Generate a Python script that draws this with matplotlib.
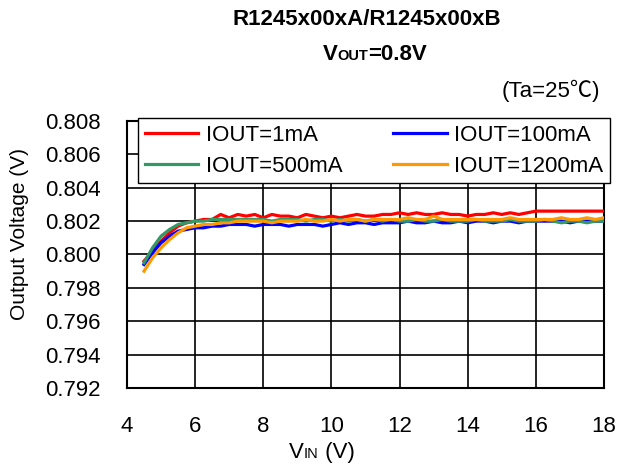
import matplotlib.pyplot as plt

plt.rcParams['font.family'] = ['Liberation Sans', 'DejaVu Sans']

# input voltage sweep (V)
vin = [4.5, 4.75, 5.0, 5.25, 5.5, 5.75, 6.0, 6.25, 6.5, 6.75,
       7.0, 7.25, 7.5, 7.75, 8.0, 8.25, 8.5, 8.75, 9.0, 9.25,
       9.5, 9.75, 10.0, 10.25, 10.5, 10.75, 11.0, 11.25, 11.5, 11.75,
       12.0, 12.25, 12.5, 12.75, 13.0, 13.25, 13.5, 13.75, 14.0, 14.25,
       14.5, 14.75, 15.0, 15.25, 15.5, 15.75, 16.0, 16.25, 16.5, 16.75,
       17.0, 17.25, 17.5, 17.75, 18.0]

vout_1ma = [0.7996, 0.8002, 0.8008, 0.8013, 0.8017, 0.8019, 0.8020, 0.8021, 0.8021, 0.8024,
            0.8022, 0.8024, 0.8023, 0.8024, 0.8022, 0.8024, 0.8023, 0.8023, 0.8022, 0.8024,
            0.8023, 0.8022, 0.8023, 0.8022, 0.8023, 0.8024, 0.8023, 0.8023, 0.8024, 0.8024,
            0.8025, 0.8024, 0.8025, 0.8024, 0.8024, 0.8025, 0.8024, 0.8024, 0.8023, 0.8024,
            0.8024, 0.8025, 0.8024, 0.8025, 0.8024, 0.8025, 0.8026, 0.8026, 0.8026, 0.8026,
            0.8026, 0.8026, 0.8026, 0.8026, 0.8026]

vout_100ma = [0.7994, 0.8001, 0.8007, 0.8011, 0.8014, 0.8015, 0.8016, 0.8016, 0.8017, 0.8017,
              0.8018, 0.8018, 0.8018, 0.8017, 0.8018, 0.8018, 0.8018, 0.8017, 0.8018, 0.8018,
              0.8018, 0.8017, 0.8018, 0.8019, 0.8018, 0.8019, 0.8019, 0.8018, 0.8019, 0.8019,
              0.8019, 0.8020, 0.8019, 0.8019, 0.8020, 0.8019, 0.8019, 0.8020, 0.8019, 0.8020,
              0.8020, 0.8019, 0.8020, 0.8020, 0.8019, 0.8020, 0.8020, 0.8020, 0.8020, 0.8020,
              0.8019, 0.8020, 0.8020, 0.8020, 0.8020]

vout_500ma = [0.7995, 0.8004, 0.8011, 0.8015, 0.8018, 0.8019, 0.8020, 0.8020, 0.8021, 0.8021,
              0.8021, 0.8021, 0.8021, 0.8021, 0.8021, 0.8020, 0.8021, 0.8021, 0.8021, 0.8020,
              0.8021, 0.8021, 0.8020, 0.8021, 0.8020, 0.8021, 0.8020, 0.8021, 0.8020, 0.8021,
              0.8020, 0.8020, 0.8021, 0.8020, 0.8020, 0.8021, 0.8020, 0.8020, 0.8020, 0.8021,
              0.8020, 0.8020, 0.8020, 0.8021, 0.8020, 0.8020, 0.8020, 0.8021, 0.8020, 0.8019,
              0.8020, 0.8020, 0.8019, 0.8020, 0.8020]

vout_1200ma = [0.7990, 0.7998, 0.8004, 0.8009, 0.8013, 0.8016, 0.8017, 0.8018, 0.8018, 0.8019,
               0.8019, 0.8020, 0.8020, 0.8020, 0.8020, 0.8019, 0.8020, 0.8020, 0.8020, 0.8021,
               0.8020, 0.8020, 0.8021, 0.8020, 0.8021, 0.8021, 0.8020, 0.8021, 0.8021, 0.8021,
               0.8021, 0.8022, 0.8021, 0.8021, 0.8023, 0.8021, 0.8021, 0.8021, 0.8021, 0.8021,
               0.8021, 0.8021, 0.8021, 0.8022, 0.8021, 0.8021, 0.8021, 0.8021, 0.8021, 0.8022,
               0.8021, 0.8021, 0.8022, 0.8021, 0.8022]

labels = ['IOUT=1mA', 'IOUT=100mA', 'IOUT=500mA', 'IOUT=1200mA']
colors = ['#ff0000', '#0000ff', '#339966', '#ff9900']
xticks = [4, 6, 8, 10, 12, 14, 16, 18]
yticks = [0.792, 0.794, 0.796, 0.798, 0.800, 0.802, 0.804, 0.806, 0.808]

fig = plt.figure(figsize=(6.2, 4.73), dpi=100)
ax = fig.add_axes([0.2048, 0.1797, 0.7694, 0.5645])

lines = []
for y, c, lab in zip([vout_1ma, vout_100ma, vout_500ma, vout_1200ma], colors, labels):
    ln, = ax.plot(vin, y, color=c, lw=2.3, label=lab, zorder=3)
    lines.append(ln)

ax.set_xlim(4, 18)
ax.set_ylim(0.792, 0.808)
ax.set_xticks(xticks)
ax.set_yticks(yticks)
ax.set_xticklabels([str(t) for t in xticks])
ax.set_yticklabels(['%.3f' % t for t in yticks])
ax.tick_params(axis='both', length=0, labelsize=16)
ax.tick_params(axis='x', pad=20)
ax.tick_params(axis='y', pad=19)
ax.grid(True, color='black', lw=1.2)
for s in ax.spines.values():
    s.set_linewidth(1.5)

# legend fills row by row in the reference: 1mA, 100mA / 500mA, 1200mA
order = [0, 2, 1, 3]
leg = ax.legend(handles=[lines[i] for i in order], ncol=2, loc='upper left', mode='expand',
                bbox_to_anchor=(0.023, 0.749, 0.99, 0.262), fontsize=16,
                frameon=True, fancybox=False, edgecolor='black', framealpha=1,
                handlelength=2.4, handletextpad=0.35, borderpad=0.3,
                labelspacing=0.45, columnspacing=0.6, borderaxespad=0)
leg.get_frame().set_linewidth(1.0)
leg.set_zorder(5)

ax.set_ylabel('Output Voltage (V)', fontsize=15)
ax.yaxis.set_label_coords(-0.205, 0.575)

# titles
fig.text(0.591, 0.958, 'R1245x00xA/R1245x00xB', ha='center', va='center',
         fontsize=16, fontweight='bold')
fig.canvas.draw()
r = fig.canvas.get_renderer()

def chain(parts, x, y, **kw):
    # draw text pieces side by side on one baseline, centred on x
    widths = []
    tmp = []
    for txt, size in parts:
        t = fig.text(0, 0, txt, fontsize=size, va='baseline', **kw)
        widths.append(t.get_window_extent(r).width)
        tmp.append(t)
    px, py = fig.transFigure.transform((x, y))
    px -= sum(widths) / 2
    for t, w in zip(tmp, widths):
        t.set_position(fig.transFigure.inverted().transform((px, py)))
        px += w

chain([('V', 16), ('OUT', 10.5), ('=0.8V', 16)], 0.605, 0.873, fontweight='bold')
fig.text(0.968, 0.808, '(Ta=25\u2103)', ha='right', va='center', fontsize=16,
         family=['Liberation Sans', 'Noto Sans CJK JP'])
chain([('V', 16), ('IN', 10.5), (' (V)', 16)], 0.519, 0.032)

plt.savefig('out.png', dpi=100)
